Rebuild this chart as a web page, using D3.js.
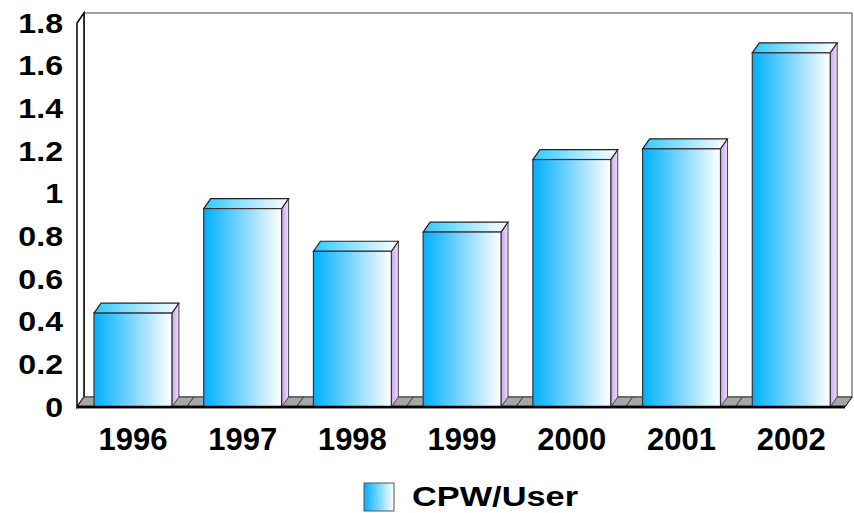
<!DOCTYPE html>
<html>
<head>
<meta charset="utf-8">
<script src="https://cdn.jsdelivr.net/npm/d3@7"></script>
<style>
  body { margin: 0; background: #fff; }
  svg { display: block; font-family: Arial, "Liberation Sans", sans-serif; font-weight: bold; }
</style>
</head>
<body>
<svg width="854" height="513"></svg>
<script>
// chart data
const years = ['1996', '1997', '1998', '1999', '2000', '2001', '2002'];
const cpwUser = [0.44, 0.93, 0.73, 0.82, 1.16, 1.21, 1.66];
const yTickValues = [0, 0.2, 0.4, 0.6, 0.8, 1, 1.2, 1.4, 1.6, 1.8];
const yTickLabels = ['0', '0.2', '0.4', '0.6', '0.8', '1', '1.2', '1.4', '1.6', '1.8'];
const seriesName = 'CPW/User';

const svg = d3.select('svg');

// 3d depth offset
const dx = 7, dy = -10;

const x = d3.scaleBand()
  .domain(years)
  .range([77, 845]);

const y = d3.scaleLinear()
  .domain([0, 1.8])
  .range([407, 23]);

const defs = svg.append('defs');

const grad = (id, stops, x2 = '100%') => {
  const g = defs.append('linearGradient').attr('id', id)
    .attr('x1', '0%').attr('y1', '0%').attr('x2', x2).attr('y2', '0%');
  stops.forEach(s => g.append('stop').attr('offset', s[0]).attr('stop-color', s[1]));
};
grad('front', [['0%', '#00b0ff'], ['50%', '#80d6ff'], ['100%', '#ffffff']]);
grad('top', [['0%', '#2ccaff'], ['55%', '#a6e6ff'], ['100%', '#ffffff']]);
grad('side', [['0%', '#c8a4ec'], ['100%', '#f2dcff']]);

const x0 = x.range()[0], x1 = x.range()[1];
const yTop = y(1.8), yBase = y(0);

// back wall
svg.append('rect')
  .attr('x', x0 + dx).attr('y', yTop + dy)
  .attr('width', x1 - x0).attr('height', yBase - yTop)
  .attr('fill', '#fff').attr('stroke', '#444').attr('stroke-width', 1);

// left side wall
svg.append('path')
  .attr('d', `M${x0},${yBase} L${x0},${yTop} L${x0 + dx},${yTop + dy} L${x0 + dx},${yBase + dy} Z`)
  .attr('fill', '#fff').attr('stroke', '#000').attr('stroke-width', 1.5);

// floor
svg.append('path')
  .attr('d', `M${x0},${yBase} L${x0 + dx},${yBase + dy} L${x1 + dx},${yBase + dy} L${x1},${yBase} Z`)
  .attr('fill', '#a6a6a6').attr('stroke', '#333').attr('stroke-width', 1);

// category ticks on the floor
svg.selectAll('line.cat')
  .data(years.slice(1).concat(['end']))
  .enter()
  .append('line')
    .attr('class', 'cat')
    .attr('x1', (d, i) => x0 + (i + 1) * x.bandwidth())
    .attr('y1', yBase)
    .attr('x2', (d, i) => x0 + (i + 1) * x.bandwidth() + dx)
    .attr('y2', yBase + dy)
    .attr('stroke', '#333');

// front floor edge
svg.append('line')
  .attr('x1', x0).attr('x2', x1)
  .attr('y1', yBase).attr('y2', yBase)
  .attr('stroke', '#000').attr('stroke-width', 2.5);

const barX = d => x(d) + x.bandwidth() * 0.155;
const barW = x.bandwidth() * 0.71;

const bars = svg.selectAll('g.bar')
  .data(years.map((d, i) => ({ year: d, value: cpwUser[i] })))
  .enter()
  .append('g')
    .attr('class', 'bar');

// side face
bars.append('path')
  .attr('d', d => {
    const r = barX(d.year) + barW, t = y(d.value);
    return `M${r},${yBase} L${r},${t} L${r + dx},${t + dy} L${r + dx},${yBase + dy} Z`;
  })
  .attr('fill', 'url(#side)').attr('stroke', '#444').attr('stroke-width', 1);

// top face
bars.append('path')
  .attr('d', d => {
    const l = barX(d.year), t = y(d.value);
    return `M${l},${t} L${l + dx},${t + dy} L${l + barW + dx},${t + dy} L${l + barW},${t} Z`;
  })
  .attr('fill', 'url(#top)').attr('stroke', '#222').attr('stroke-width', 1.2);

// front face
bars.append('rect')
  .attr('x', d => barX(d.year))
  .attr('y', d => y(d.value))
  .attr('width', barW)
  .attr('height', d => yBase - y(d.value))
  .attr('fill', 'url(#front)').attr('stroke', '#333').attr('stroke-width', 1.2);

// re-draw front floor edge over the bar bottoms
svg.append('line')
  .attr('x1', x0).attr('x2', x1)
  .attr('y1', yBase).attr('y2', yBase)
  .attr('stroke', '#000').attr('stroke-width', 2.5);

// y labels
svg.selectAll('text.ylab')
  .data(yTickValues)
  .enter()
  .append('text')
    .attr('class', 'ylab')
    .attr('transform', d => `translate(63,${y(d) + 9.7}) scale(1.19,1)`)
    .attr('text-anchor', 'end')
    .attr('font-size', 27)
    .text((d, i) => yTickLabels[i]);

// x labels
svg.selectAll('text.xlab')
  .data(years)
  .enter()
  .append('text')
    .attr('class', 'xlab')
    .attr('x', d => barX(d) + barW / 2)
    .attr('y', 450)
    .attr('text-anchor', 'middle')
    .attr('font-size', 31)
    .text(d => d);

// legend
svg.append('rect')
  .attr('x', 364).attr('y', 483)
  .attr('width', 30).attr('height', 28)
  .attr('fill', 'url(#front)').attr('stroke', '#555').attr('stroke-width', 1);

svg.append('text')
  .attr('x', 412).attr('y', 506)
  .attr('font-size', 28)
  .attr('textLength', 166)
  .attr('lengthAdjust', 'spacingAndGlyphs')
  .text(seriesName);
</script>
</body>
</html>
